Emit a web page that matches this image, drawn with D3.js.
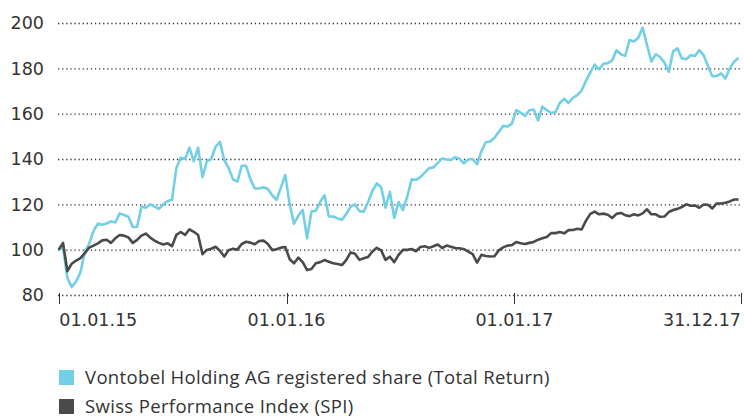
<!DOCTYPE html>
<html><head><meta charset="utf-8">
<script src="https://cdn.jsdelivr.net/npm/d3@7"></script>
<style>
html,body{margin:0;padding:0;background:#fff;}
svg{display:block;}
</style></head>
<body>
<svg id="chart" width="744" height="417"></svg>
<script>
// Weekly observations starting 31.12.2014
const startDate = "2014-12-31";
const seriesNames = ["Vontobel Holding AG registered share (Total Return)", "Swiss Performance Index (SPI)"];
const yTicks = [80, 100, 120, 140, 160, 180, 200];
const xTickDates = ["2015-01-01", "2016-01-01", "2017-01-01", "2017-12-31"];
const xTickLabels = ["01.01.15", "01.01.16", "01.01.17", "31.12.17"];

const vontobel = [
100, 101, 87.5, 83.5, 86, 90, 99, 102.7, 108.3, 111.5,
111, 111.5, 112.5, 112, 116, 115.3, 114.5, 110, 110.1, 119,
118.5, 120, 119, 118, 120, 121.5, 122, 136, 140.5, 140,
145, 139, 145, 132, 139, 140, 145.4, 147.6, 139.5, 136,
131, 130, 137, 137, 131, 127, 127, 127.5, 126.8, 124,
122, 127.5, 133, 120, 111.5, 115, 117.5, 105, 116.8, 117.2,
121, 124, 114.6, 114.6, 113.8, 113.2, 115.8, 119, 120, 117,
116.8, 121, 126, 129.2, 127.5, 118.5, 125.5, 114, 121, 117.5,
123.5, 131, 130.8, 132, 134, 135.9, 136.3, 138.3, 140.2, 139.8,
139.6, 140.8, 140, 138.1, 139.8, 140, 137.7, 143.4, 147.4, 147.7,
149.4, 152, 154.6, 154.3, 155.6, 161.5, 160.5, 159, 161.5, 161.8,
157, 163.1, 161.5, 160.3, 160.7, 164.7, 166.6, 164.7, 167, 168.2,
170.2, 174.5, 178.2, 181.6, 179.5, 182, 182.3, 183.5, 188, 186.2,
185.5, 192.5, 191.8, 193.5, 198, 190.3, 183, 186.2, 185, 182.5,
178.5, 187.5, 188.8, 184.4, 184, 185.8, 185.5, 188, 185.8, 181,
176.5, 176.6, 177.8, 175.5, 180, 183, 184.6
];

const spi = [
100, 103, 90.5, 93.8, 95.2, 96.3, 98.5, 100.9, 101.8, 102.8,
104.1, 104.4, 103, 105, 106.5, 106.2, 105.4, 103, 104.3, 106.2,
107.1, 105.3, 104, 103, 102.3, 102.8, 101.5, 106.5, 107.8, 106.5,
109, 107.9, 106.5, 98, 99.9, 100.4, 101.3, 99.5, 97, 99.8,
100.4, 100, 102.5, 103.5, 103.1, 102.4, 103.8, 104, 102.5, 99.8,
100.2, 100.9, 101.2, 95.8, 94, 96.5, 94.5, 91, 91.5, 94,
94.5, 95.4, 94.7, 94, 93.7, 93.2, 95.5, 98.8, 98.2, 95.5,
96.2, 96.8, 99.2, 100.8, 99.7, 95.5, 96.9, 94.5, 97.7, 99.9,
99.9, 100.3, 99.3, 101.2, 101.5, 100.8, 101.5, 102.3, 100.7, 101.8,
101.3, 100.7, 100.6, 100.2, 99.1, 98, 94.3, 97.7, 97.2, 97,
97.1, 99.7, 101, 101.8, 102, 103.4, 102.8, 102.5, 103, 103.4,
104.4, 105, 105.6, 107.3, 107.3, 107.8, 107.2, 108.6, 108.7, 109.2,
108.9, 112.8, 115.8, 116.8, 115.6, 115.9, 115.4, 114, 115.8, 116.2,
115.2, 114.8, 115.6, 115.1, 116, 117.8, 115.6, 115.6, 114.5, 114.6,
116.6, 117.5, 118, 118.8, 120, 119.4, 119.5, 118.5, 119.9, 119.8,
118.2, 120.4, 120.4, 120.7, 121.3, 122.1, 122.1
];

const colors = ["#72cfe6", "#4a4a4a"];
const textColor = "#333";
const numFont = "'DejaVu Sans', sans-serif";
const legendFont = "'Open Sans', Roboto, sans-serif";

const parse = d3.utcParse("%Y-%m-%d");
const t0 = parse(startDate);
const dates = vontobel.map((_, i) => d3.utcDay.offset(t0, 7 * i));

const svg = d3.select("#chart");
const x = d3.scaleUtc().domain([parse("2015-01-01"), parse("2017-12-31")]).range([59.3, 741]);
const y = d3.scaleLinear().domain([80, 200]).range([295, 23]);

// gridlines
svg.append("g").selectAll("line").data(yTicks).join("line")
  .attr("x1", 58).attr("x2", 741)
  .attr("y1", d => y(d) + 0.5).attr("y2", d => y(d) + 0.5)
  .attr("stroke", "#333").attr("stroke-width", 1.3)
  .attr("stroke-dasharray", "1.3,2.8");

// y labels
svg.append("g").selectAll("text").data(yTicks).join("text")
  .attr("x", 44).attr("y", d => y(d)).attr("dy", "0.36em")
  .attr("text-anchor", "end").attr("font-size", 17.5).attr("fill", textColor)
  .attr("font-family", numFont)
  .text(d => d);

// x ticks
const xt = xTickDates.map(parse);
svg.append("g").selectAll("line").data(xt).join("line")
  .attr("x1", d => Math.round(x(d)) + 0.5).attr("x2", d => Math.round(x(d)) + 0.5)
  .attr("y1", 293).attr("y2", 304)
  .attr("stroke", "#333").attr("stroke-width", 1);
svg.append("g").selectAll("text").data(xt).join("text")
  .attr("x", d => x(d)).attr("y", 326)
  .attr("text-anchor", (d, i) => i === 0 ? "start" : (i === xt.length - 1 ? "end" : "middle"))
  .attr("font-size", 17.5).attr("fill", textColor).attr("font-family", numFont)
  .text((d, i) => xTickLabels[i]);

// lines
const line = d3.line().x((d, i) => x(dates[i])).y(d => y(d)).curve(d3.curveLinear);
[vontobel, spi].forEach((s, k) => {
  svg.append("path").datum(s).attr("d", line)
    .attr("fill", "none").attr("stroke", colors[k])
    .attr("stroke-width", 2.6).attr("stroke-linejoin", "round");
});

// legend
const lg = svg.append("g");
seriesNames.forEach((n, k) => {
  lg.append("rect").attr("x", 59).attr("y", 370 + k * 29).attr("width", 15).attr("height", 15).attr("fill", colors[k]);
  lg.append("text").attr("x", 85).attr("y", 384 + k * 29)
    .attr("font-size", 18.5).attr("letter-spacing", 0.35)
    .attr("fill", textColor).attr("font-family", legendFont).text(n);
});
</script>
</body></html>
